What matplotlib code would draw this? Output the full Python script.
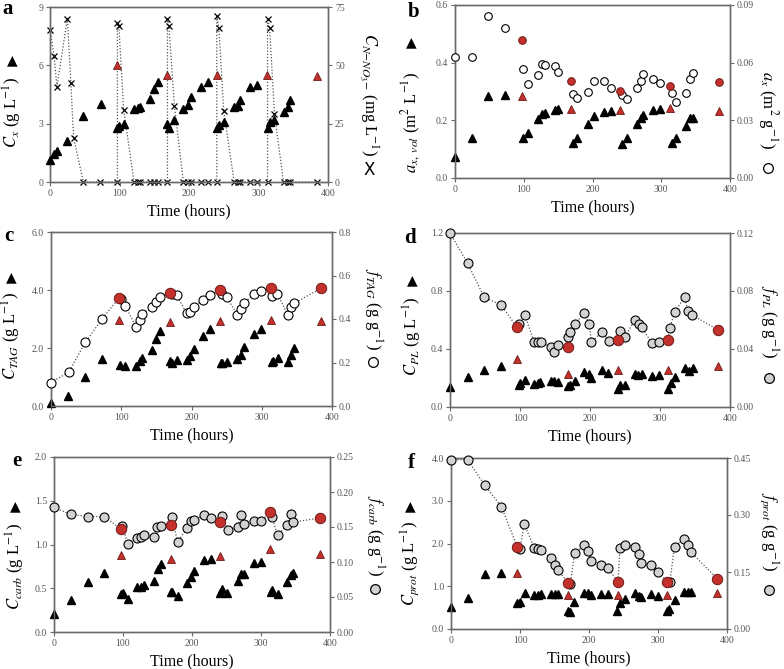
import numpy as np
import matplotlib
matplotlib.use('Agg')
import matplotlib.pyplot as plt
from matplotlib.ticker import FormatStrFormatter

plt.rcParams['font.family'] = ['Liberation Serif', 'DejaVu Serif']
plt.rcParams['mathtext.fontset'] = 'stix'

# ---------------- data ----------------
# panel a : biomass (triangles) and nitrate (x)
a_t = [0, 6, 10, 25, 48, 73, 97, 99, 106, 121, 126, 130, 144, 150, 155, 168, 171, 179,
       192, 198, 203, 217, 227, 240, 243, 250, 265, 270, 274, 288, 298, 313, 316, 323,
       336, 342, 346]
a_cx = [1.15, 1.43, 1.6, 2.1, 3.42, 4.03, 2.8, 2.89, 2.96, 3.73, 3.79, 3.87, 4.27, 4.77,
        5.15, 2.98, 2.8, 3.18, 3.73, 3.96, 4.35, 4.89, 5.16, 2.8, 2.91, 3.1, 3.84, 3.89,
        4.23, 4.87, 5.0, 2.8, 3.08, 3.18, 3.6, 3.85, 4.23]
a_red_t = [97, 169, 240, 312, 384]
a_cx_red = [6.02, 5.52, 5.52, 5.52, 5.44]
a_tn = [0, 6, 10, 25, 30, 34, 48, 72, 97, 97, 99, 106, 121, 126, 130, 144, 150, 155,
        169, 169, 171, 179, 192, 198, 203, 217, 227, 240, 240, 243, 250, 265, 270, 274,
        288, 298, 313, 313, 316, 323, 336, 342, 346, 384]
a_no3 = [65.3, 53.8, 40.9, 70.0, 42.6, 18.9, 0, 0, 0, 68.2, 67.0, 30.8, 0, 0, 0, 0, 0, 0,
         0, 70.0, 67.0, 32.6, 0, 0, 0, 0, 0, 0, 71.0, 66.0, 30.4, 0, 0, 0,
         0, 0, 0, 70.0, 66.0, 29.0, 0, 0, 0, 0]

# panel b : volumetric area (triangles) and specific area (circles)
b_t = [0, 24, 48, 72, 99, 106, 121, 126, 131, 145, 150, 171, 178, 193, 202, 217, 227,
       243, 250, 265, 270, 274, 288, 298, 315, 322, 336, 342, 346]
b_avol = [0.072, 0.139, 0.283, 0.289, 0.139, 0.156, 0.205, 0.222, 0.224, 0.237, 0.24,
          0.121, 0.139, 0.187, 0.216, 0.228, 0.234, 0.118, 0.139, 0.187, 0.207, 0.218,
          0.236, 0.239, 0.12, 0.139, 0.181, 0.208, 0.208]
b_ax = [0.0627, 0.0627, 0.0841, 0.078, 0.0567, 0.049, 0.0538, 0.0595, 0.059, 0.0583,
        0.0554, 0.0437, 0.0414, 0.0446, 0.0505, 0.0505, 0.047, 0.043, 0.0413, 0.0468,
        0.0503, 0.054, 0.0516, 0.0494, 0.044, 0.0395, 0.044, 0.0516, 0.0548]
b_red_t = [97, 169, 240, 312, 384]
b_avol_red = [0.283, 0.24, 0.235, 0.242, 0.233]
b_ax_red = [0.072, 0.0505, 0.045, 0.0479, 0.0502]

# panel c : TAG
c_t = [0, 24, 48, 72, 98, 106, 121, 126, 130, 144, 150, 155, 169, 172, 179, 193, 198,
       203, 217, 227, 242, 244, 250, 265, 270, 275, 289, 299, 314, 316, 323, 337, 342, 346]
c_c = [0.1, 0.33, 1.0, 1.63, 1.43, 1.39, 1.39, 1.54, 1.67, 1.93, 2.31, 2.58, 1.54, 1.47,
       1.6, 1.6, 1.71, 1.96, 2.4, 2.67, 1.5, 1.5, 1.53, 1.63, 1.77, 2.02, 2.5, 2.67, 1.53,
       1.55, 1.66, 1.52, 1.75, 2.0]
c_tf = [0, 25, 49, 73, 99, 106, 121, 126, 130, 144, 150, 155, 172, 179, 193, 198, 203,
        217, 227, 244, 250, 265, 270, 275, 289, 299, 315, 322, 337, 342, 346]
c_f = [0.108, 0.155, 0.293, 0.402, 0.493, 0.458, 0.365, 0.397, 0.425, 0.455, 0.48, 0.5,
       0.515, 0.509, 0.426, 0.432, 0.455, 0.489, 0.512, 0.517, 0.501, 0.42, 0.448, 0.475,
       0.514, 0.529, 0.506, 0.517, 0.42, 0.454, 0.472]
c_red_t = [97, 169, 241, 313, 384]
c_c_red = [2.98, 2.9, 2.94, 2.98, 2.94]
c_f_red = [0.497, 0.521, 0.535, 0.541, 0.541]

# panel d : PL
d_t = [0, 25, 49, 73, 98, 100, 107, 120, 126, 129, 144, 149, 154, 169, 172, 179, 192,
       198, 202, 217, 226, 240, 243, 250, 264, 269, 274, 288, 298, 312, 315, 322, 335,
       341, 347]
d_c = [0.138, 0.208, 0.256, 0.282, 0.155, 0.168, 0.189, 0.162, 0.166, 0.171, 0.18, 0.18,
       0.171, 0.145, 0.152, 0.178, 0.242, 0.226, 0.198, 0.252, 0.235, 0.127, 0.152, 0.152,
       0.231, 0.224, 0.228, 0.215, 0.224, 0.127, 0.166, 0.208, 0.27, 0.249, 0.27]
d_tf = [0, 25, 49, 73, 99, 107, 120, 125, 130, 144, 149, 154, 169, 171, 179, 191, 199,
        202, 217, 227, 243, 250, 264, 270, 274, 288, 298, 314, 321, 335, 340, 345]
d_f = [0.12, 0.0992, 0.0757, 0.0702, 0.0575, 0.0635, 0.0448, 0.0448, 0.0448, 0.0415,
       0.038, 0.0427, 0.0485, 0.052, 0.0572, 0.065, 0.0572, 0.0448, 0.0517, 0.0457,
       0.0524, 0.0485, 0.06, 0.057, 0.0549, 0.0443, 0.0448, 0.0547, 0.0655, 0.0757,
       0.066, 0.0637]
d_red_t = [96, 168, 240, 311, 383]
d_c_red = [0.332, 0.231, 0.258, 0.254, 0.284]
d_f_red = [0.0549, 0.0415, 0.0462, 0.0462, 0.0531]

# panel e : carbohydrates
e_t = [0, 24, 49, 73, 97, 100, 107, 121, 126, 130, 145, 150, 155, 169, 171, 179, 193,
       198, 203, 217, 227, 240, 244, 251, 266, 271, 276, 290, 300, 314, 316, 324, 338,
       343, 347]
e_c = [0.21, 0.363, 0.566, 0.669, 0.43, 0.447, 0.38, 0.51, 0.516, 0.54, 0.58, 0.72, 0.78,
       0.46, 0.46, 0.41, 0.555, 0.63, 0.696, 0.822, 0.84, 0.444, 0.486, 0.45, 0.58, 0.66,
       0.66, 0.784, 0.803, 0.46, 0.478, 0.436, 0.566, 0.65, 0.68]
e_tf = [0, 24, 49, 73, 99, 107, 121, 126, 130, 145, 150, 155, 171, 179, 193, 198, 203,
        217, 227, 244, 252, 266, 271, 276, 290, 300, 316, 324, 338, 343, 347]
e_f = [0.178, 0.168, 0.165, 0.165, 0.151, 0.126, 0.135, 0.136, 0.138, 0.136, 0.15, 0.151,
       0.164, 0.129, 0.148, 0.158, 0.16, 0.167, 0.1625, 0.166, 0.146, 0.15, 0.167, 0.154,
       0.159, 0.158, 0.165, 0.138, 0.153, 0.168, 0.157]
e_red_t = [97, 169, 241, 313, 386]
e_c_red = [0.88, 0.84, 0.868, 0.948, 0.887]
e_f_red = [0.147, 0.153, 0.157, 0.171, 0.163]

# panel f : protein
f_t = [0, 24, 49, 73, 96, 100, 107, 121, 126, 130, 145, 150, 155, 169, 172, 178, 193,
       198, 203, 217, 227, 241, 245, 252, 266, 272, 276, 290, 300, 313, 316, 324, 338,
       344, 348]
f_c = [0.507, 0.725, 1.287, 1.3, 0.608, 0.63, 0.84, 0.8, 0.8, 0.82, 0.82, 0.82, 0.82,
       0.43, 0.39, 0.63, 0.834, 0.834, 0.8, 0.826, 0.826, 0.41, 0.616, 0.71, 0.834, 0.78,
       0.756, 0.826, 0.78, 0.41, 0.46, 0.68, 0.866, 0.866, 0.866]
f_tf = [0, 24, 49, 73, 100, 106, 121, 126, 131, 145, 150, 155, 173, 179, 193, 199, 203,
        217, 227, 245, 252, 266, 272, 276, 290, 300, 317, 324, 338, 344, 348]
f_f = [0.4456, 0.4456, 0.378, 0.322, 0.21, 0.276, 0.213, 0.21, 0.207, 0.187, 0.169, 0.156,
       0.118, 0.199, 0.22, 0.206, 0.18, 0.169, 0.16, 0.213, 0.222, 0.217, 0.197, 0.173,
       0.168, 0.151, 0.123, 0.217, 0.238, 0.22, 0.202]
f_red_t = [96, 170, 242, 313, 386]
f_c_red = [1.3, 0.8, 0.8, 0.8, 0.84]
f_f_red = [0.216, 0.12, 0.125, 0.123, 0.132]

x_ticks = [0, 100, 200, 300, 400]

# ---------------- style ----------------
W, H = 784, 669
fig = plt.figure(figsize=(W / 100, H / 100), dpi=100)
RED = '#c4302b'
REDE = '#6e1a16'
SPINE = '#6a6a6a'
TICKC = '#555555'
GRAYF = '#d2d2d2'
LBL = 12


def box(l, r, t, b):
    return [l / W, 1 - b / H, (r - l) / W, (b - t) / H]


def make_axes(rect, ylim, yticks, yfmt, y2lim, y2ticks, y2fmt):
    ax = fig.add_axes(rect)
    ax2 = ax.twinx()
    ax.set_xlim(0, 400)
    ax.set_ylim(*ylim)
    ax2.set_ylim(*y2lim)
    ax.set_xticks(x_ticks)
    ax.set_yticks(yticks)
    ax2.set_yticks(y2ticks)
    ax.yaxis.set_major_formatter(FormatStrFormatter(yfmt))
    ax2.yaxis.set_major_formatter(FormatStrFormatter(y2fmt))
    for a in (ax, ax2):
        for s in a.spines.values():
            s.set_color(SPINE)
            s.set_linewidth(1.0)
        a.tick_params(direction='out', length=3, width=0.8, colors=SPINE,
                      labelcolor=TICKC, labelsize=7, pad=2)
    ax.set_xlabel('Time (hours)', fontsize=11.5, labelpad=4)
    return ax, ax2


def tri(ax, t, v, tr, vr):
    ax.plot(t, v, ls='none', marker='^', ms=5.5, mfc='black', mec='black', clip_on=False,
            zorder=3)
    ax.plot(tr, vr, ls='none', marker='^', ms=5.5, mfc=RED, mec=REDE, mew=0.6,
            clip_on=False, zorder=3)


def circ(ax, t, v, tr, vr, fill, line=True, ms=6.5, msr=7.5):
    if line:
        ta = np.concatenate([t, tr])
        va = np.concatenate([v, vr])
        o = np.argsort(ta, kind='stable')
        ax.plot(ta[o], va[o], ls=(0, (1, 1.5)), lw=0.9, color='#555555', zorder=2)
    ax.plot(t, v, ls='none', marker='o', ms=ms, mfc=fill, mec='black', mew=0.8,
            clip_on=False, zorder=4)
    ax.plot(tr, vr, ls='none', marker='o', ms=msr, mfc=RED, mec=REDE, mew=0.7,
            clip_on=False, zorder=4)


def left_label(x, y, text, ty):
    fig.text(x / W, 1 - y / H, text, rotation=90, ha='center', va='center', fontsize=LBL)
    fig.text(x / W, 1 - ty / H, '\u25B2', ha='center', va='center', fontsize=10,
             family='DejaVu Sans')


def right_label(x, y, text, sy, sym, fill):
    fig.text(x / W, 1 - y / H, text, rotation=270, ha='center', va='center', fontsize=LBL)
    if sym == 'x':
        fig.text(x / W, 1 - sy / H, 'X', ha='center', va='center', fontsize=12,
                 family='DejaVu Sans')
    else:
        fig.lines.append(plt.Line2D([x / W], [1 - sy / H], marker='o', ms=7, mfc=fill,
                                    mec='black', mew=0.9, transform=fig.transFigure))


def letter(x, y, s):
    fig.text(x / W, 1 - y / H, s, fontsize=15, fontweight='bold', ha='left', va='center')


# ---------------- panel a ----------------
ax, ax2 = make_axes(box(50, 328, 7, 182), (0, 9), [0, 3, 6, 9], '%d',
                    (0, 75), [0, 25, 50, 75], '%d')
ax2.plot(a_tn, a_no3, ls=(0, (1, 1.5)), lw=0.9, color='#555555', marker='x', ms=5,
         mec='black', mew=0.9, clip_on=False, zorder=2)
ax2.set_zorder(1)
ax.set_zorder(2)
ax.patch.set_visible(False)
tri(ax, a_t, a_cx, a_red_t, a_cx_red)
left_label(12, 112, r'$C_x$ (g L$^{-1}$)', 60)
right_label(369, 95, r'$C_{N\mathrm{-}NO_3\mathrm{-}}$ (mg L$^{-1}$)', 170, 'x', None)
letter(2, 9, 'a')

# ---------------- panel b ----------------
ax, ax2 = make_axes(box(455, 730, 5, 178), (0, 0.6), [0, 0.2, 0.4, 0.6], '%.1f',
                    (0, 0.09), [0, 0.03, 0.06, 0.09], '%.2f')
tri(ax, b_t, b_avol, b_red_t, b_avol_red)
circ(ax2, b_t, b_ax, b_red_t, b_ax_red, 'white', line=False, ms=5.5, msr=5.5)
left_label(411, 122, r'$a_{x,\ vol}$ (m$^{2}$ L$^{-1}$)', 42)
right_label(768, 110, r'$a_x$ (m$^{2}$ g$^{-1}$)', 168, 'o', 'white')
letter(408, 12, 'b')

# ---------------- panel c ----------------
ax, ax2 = make_axes(box(51, 332, 232, 406), (0, 6), [0, 2, 4, 6], '%.1f',
                    (0, 0.8), [0, 0.2, 0.4, 0.6, 0.8], '%.1f')
tri(ax, c_t, c_c, c_red_t, c_c_red)
circ(ax2, c_tf, c_f, c_red_t, c_f_red, 'white')
left_label(11, 336, r'$C_{TAG}$ (g L$^{-1}$)', 277)
right_label(373, 309, r'$f_{TAG}$ (g g$^{-1}$)', 362, 'o', 'white')
letter(4, 236, 'c')

# ---------------- panel d ----------------
ax, ax2 = make_axes(box(450, 730, 233, 407), (0, 1.2), [0, 0.4, 0.8, 1.2], '%.1f',
                    (0, 0.12), [0, 0.04, 0.08, 0.12], '%.2f')
tri(ax, d_t, d_c, d_red_t, d_c_red)
circ(ax2, d_tf, d_f, d_red_t, d_f_red, GRAYF)
left_label(412, 336, r'$C_{PL}$ (g L$^{-1}$)', 280)
right_label(769, 322, r'$f_{PL}$ (g g$^{-1}$)', 378, 'o', GRAYF)
letter(404, 238, 'd')

# ---------------- panel e ----------------
ax, ax2 = make_axes(box(54, 330, 457, 632), (0, 2.0), [0, 0.5, 1.0, 1.5, 2.0], '%.1f',
                    (0, 0.25), [0, 0.05, 0.10, 0.15, 0.20, 0.25], '%.2f')
tri(ax, e_t, e_c, e_red_t, e_c_red)
circ(ax2, e_tf, e_f, e_red_t, e_f_red, GRAYF)
left_label(15, 566, r'$C_{carb}$ (g L$^{-1}$)', 506)
right_label(375, 536, r'$f_{carb}$ (g g$^{-1}$)', 589, 'o', GRAYF)
letter(12, 461, 'e')

# ---------------- panel f ----------------
ax, ax2 = make_axes(box(451, 727, 458, 629), (0, 4.0), [0, 1, 2, 3, 4], '%.1f',
                    (0, 0.45), [0, 0.15, 0.30, 0.45], '%.2f')
tri(ax, f_t, f_c, f_red_t, f_c_red)
circ(ax2, f_tf, f_f, f_red_t, f_f_red, GRAYF)
left_label(410, 563, r'$C_{prot}$ (g L$^{-1}$)', 506)
right_label(769, 532, r'$f_{prot}$ (g g$^{-1}$)', 590, 'o', GRAYF)
letter(408, 463, 'f')

fig.savefig('out.png', dpi=100)
